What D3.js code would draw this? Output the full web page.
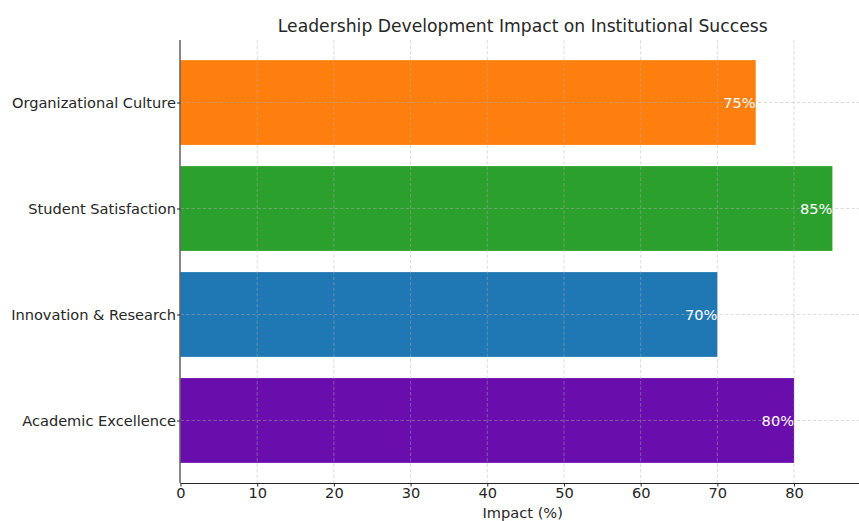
<!DOCTYPE html>
<html>
<head>
<meta charset="utf-8">
<script src="https://cdn.jsdelivr.net/npm/d3@7"></script>
<style>
body{margin:0;background:#fff;}
svg{display:block;font-family:"DejaVu Sans",sans-serif;}
</style>
</head>
<body>
<svg id="chart" width="859" height="521"></svg>
<script>
const categories = ["Academic Excellence","Innovation & Research","Student Satisfaction","Organizational Culture"];
const values = [80, 70, 85, 75];
const colors = ["#6a0dad","#1f77b4","#2ca02c","#ff7f0e"];
const xTicks = [0,10,20,30,40,50,60,70,80];
const title = "Leadership Development Impact on Institutional Success";
const xLabel = "Impact (%)";

(function(){
const svg = d3.select("#chart");
const pL = 180.5, pR = 865, pT = 40, pB = 483;
const x = d3.scaleLinear().domain([0, 89.25]).range([pL, pR]);
const y = d3.scaleLinear().domain([-0.59, 3.59]).range([pB, pT]);
const bandH = y(0) - y(0.8);
const textColor = "#262626";
const fs = "14.6px";

// bars
svg.append("g").selectAll("rect").data(categories).join("rect")
  .attr("x", x(0))
  .attr("y", (d,i) => y(i + 0.4))
  .attr("width", (d,i) => x(values[i]) - x(0))
  .attr("height", bandH)
  .attr("fill", (d,i) => colors[i]);

// grid (on top)
const grid = svg.append("g").attr("stroke", "#b0b0b0").attr("stroke-opacity", 0.55)
  .attr("stroke-dasharray", "3.5,2").attr("stroke-width", 0.8);
grid.selectAll("line.v").data(xTicks.filter(t => t > 0)).join("line")
  .attr("x1", d => x(d)).attr("x2", d => x(d)).attr("y1", pT).attr("y2", pB);
grid.selectAll("line.h").data(categories).join("line")
  .attr("x1", pL).attr("x2", pR).attr("y1", (d,i) => y(i)).attr("y2", (d,i) => y(i));

// value labels
svg.append("g").selectAll("text").data(categories).join("text")
  .attr("x", (d,i) => x(values[i]))
  .attr("y", (d,i) => y(i))
  .attr("dy", "0.35em")
  .attr("text-anchor", "end")
  .attr("fill", "#fff")
  .style("font-size", fs)
  .text((d,i) => values[i] + "%");

// x axis
const xAxis = d3.axisBottom(x).tickValues(xTicks).tickSize(3.5).tickPadding(1.5).tickFormat(d3.format("d"));
const gx = svg.append("g").attr("transform", `translate(0,${pB})`).call(xAxis);
gx.select(".domain").attr("d", `M${pL},0.5H${pR}`).attr("stroke", textColor).attr("stroke-width", 1.1);
gx.selectAll(".tick line").attr("stroke", textColor);
gx.selectAll(".tick text").attr("fill", textColor).style("font-size", fs).style("font-family", "DejaVu Sans");

// y axis
const yAxis = d3.axisLeft(y).tickValues(d3.range(categories.length)).tickSize(3.5).tickPadding(1).tickFormat(i => categories[i]);
const gy = svg.append("g").attr("transform", `translate(${pL},0)`).call(yAxis);
gy.select(".domain").attr("d", `M-0.5,${pT}V${pB}`).attr("stroke", textColor).attr("stroke-width", 1.1);
gy.selectAll(".tick line").attr("stroke", textColor);
gy.selectAll(".tick text").attr("fill", textColor).style("font-size", fs).style("font-family", "DejaVu Sans");

// title
svg.append("text").attr("x", (pL + pR) / 2).attr("y", 32).attr("text-anchor", "middle")
  .attr("fill", textColor).style("font-size", "17.2px").text(title);
// x label
svg.append("text").attr("x", (pL + pR) / 2).attr("y", 518).attr("text-anchor", "middle")
  .attr("fill", textColor).style("font-size", fs).text(xLabel);
})();
</script>
</body>
</html>
